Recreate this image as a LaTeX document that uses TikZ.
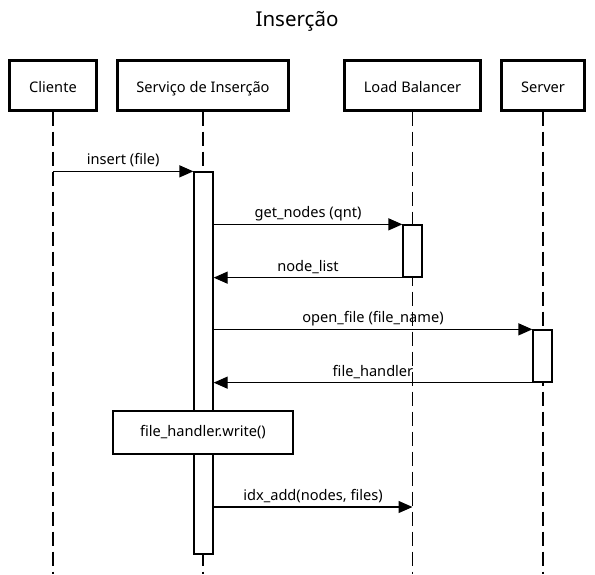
\documentclass[tikz,border=0pt]{standalone}
\usepackage{fontspec}
\setmainfont{Noto Sans}
\usetikzlibrary{arrows.meta}
\begin{document}
\begin{tikzpicture}[x=1pt,y=-1pt,
  txt/.style={font=\fontsize{14.6}{17}\selectfont},
  participant/.style={draw, line width=3pt, minimum height=50pt, inner sep=0pt,
    text height=14pt, text depth=0pt, txt},
  lifeline/.style={line width=1.5pt, dash pattern=on 14pt off 6pt},
  activation/.style={draw, fill=white, line width=1.3pt, minimum width=19pt, inner sep=0pt},
  notebox/.style={draw, fill=white, line width=1.3pt, inner sep=0pt, txt},
  msg/.style={line width=1.3pt, -{Triangle[length=14pt,width=12pt]}},
  lbl/.style={txt, anchor=base, yshift=6.5pt, inner sep=0pt}]
\useasboundingbox (0,0) rectangle (595,574);

% title
\node[font=\fontsize{20.5}{24}\selectfont] (title) at (297,21) {Inserção};

% participants
\node[participant, minimum width=87pt]  (cli) at (53,85)    {Cliente};
\node[participant, minimum width=171pt] (svc) at (203,85)   {Serviço de Inserção};
\node[participant, minimum width=136pt] (lb)  at (412.5,85) {Load Balancer};
\node[participant, minimum width=83pt]  (srv) at (543,85)   {Server};

% lifelines
\coordinate (bottom) at (0,574);
\foreach \p in {cli,svc,lb,srv}
  \draw[lifeline] (\p.south) -- (\p.south |- bottom);

% activations
\node[activation, minimum height=382pt] (actS)  at (203.5,363) {};
\node[activation, minimum height=52pt]  (actLB) at (412.5,251) {};
\node[activation, minimum height=52pt]  (actSv) at (542.5,356) {};

% messages
\draw[msg] (cli.south |- actS.north west) -- (actS.north west)
  node[lbl, midway] {insert (file)};
\draw[msg] (actS.east |- actLB.north west) -- (actLB.north west)
  node[lbl, midway] {get\_nodes (qnt)};
\draw[msg] (actLB.south west) -- (actS.east |- actLB.south west)
  node[lbl, midway] {node\_list};
\draw[msg] (actS.east |- actSv.north west) -- (actSv.north west)
  node[lbl, midway] {open\_file (file\_name)};
\draw[msg] (actSv.south west) -- (actS.east |- actSv.south west)
  node[lbl, midway] {file\_handler};

% local call
\node[notebox, minimum width=180pt, minimum height=43pt] (write) at (203,432.5) {file\_handler.write()};

% index update
\coordinate (idxy) at (0,507);
\draw[msg] (actS.east |- idxy) -- (lb.south |- idxy)
  node[lbl, midway] {idx\_add(nodes, files)};
\end{tikzpicture}
\end{document}
